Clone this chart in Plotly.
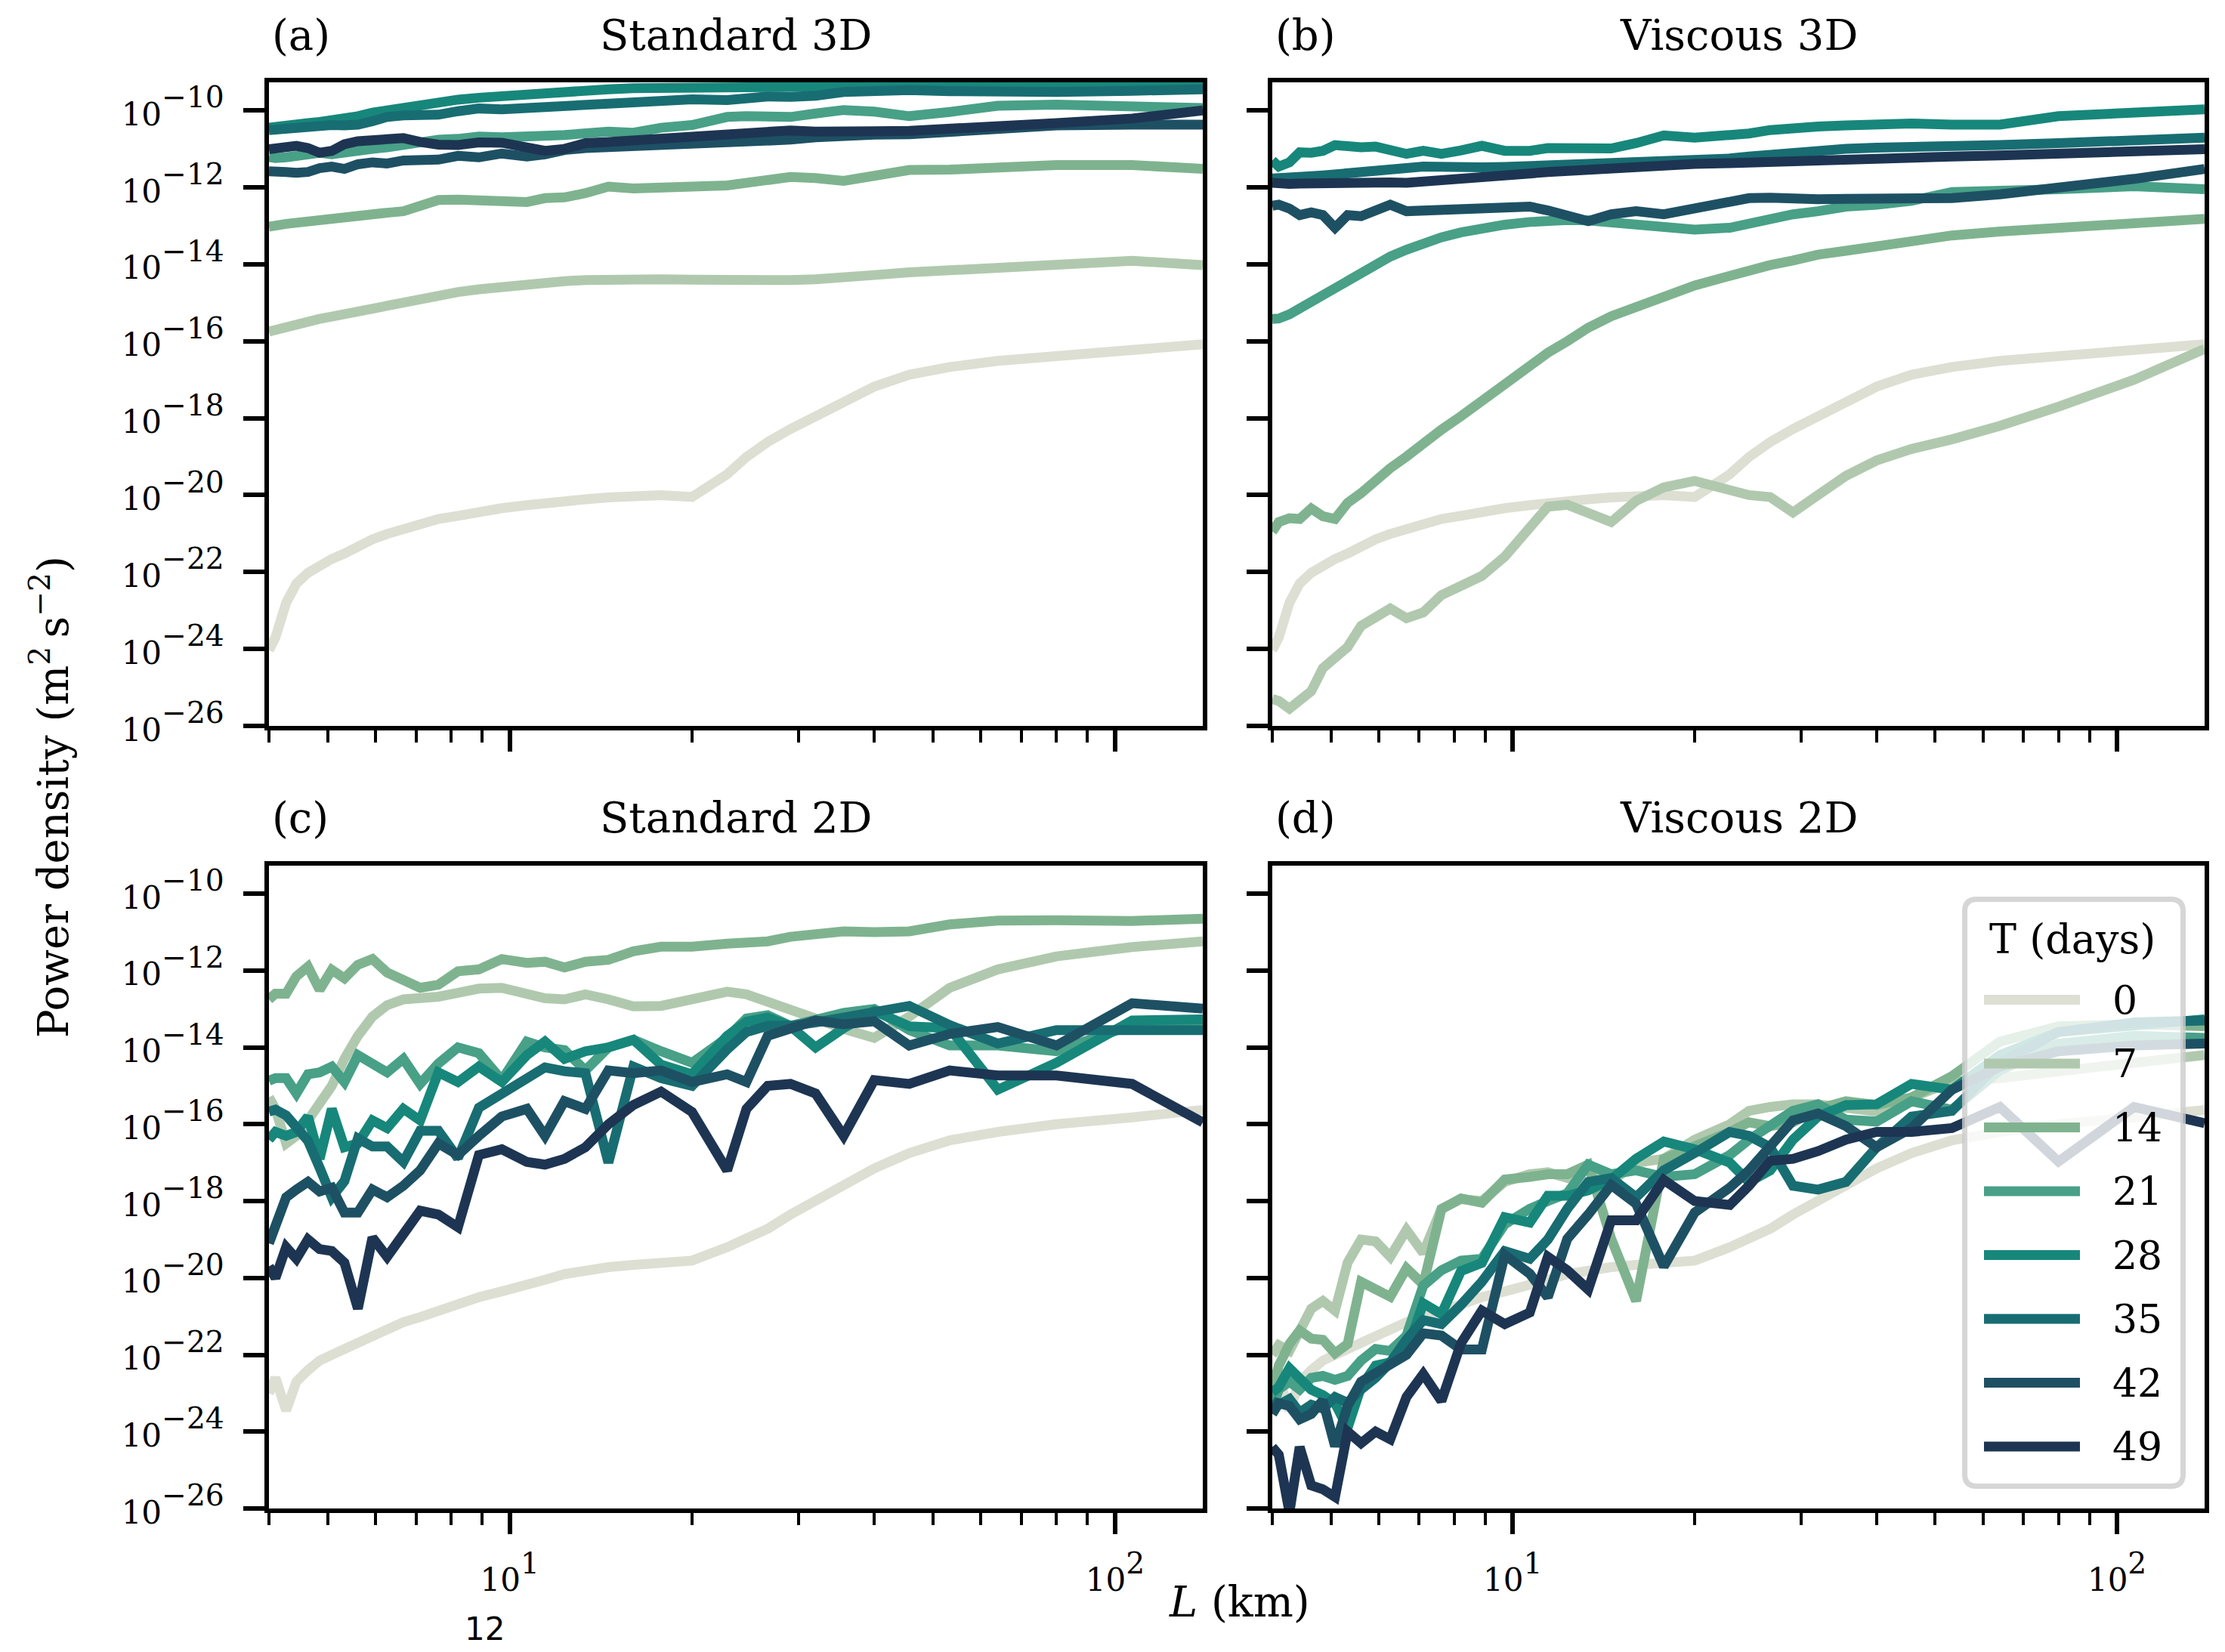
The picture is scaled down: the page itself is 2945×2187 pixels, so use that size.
import numpy as np
import plotly.graph_objects as go

# ---------------- data (log10 of power density, m^2 s^-2) ----------------
L_km = [4.0, 4.1, 4.27, 4.44, 4.64, 4.85, 5.08, 5.33, 5.61, 5.93, 6.27, 6.67, 7.11, 7.62,
        8.21, 8.89, 9.7, 10.67, 11.43, 12.31, 13.33, 14.55, 16.0, 17.78, 20.0, 22.86, 24.6,
        26.67, 29.09, 32.0, 35.6, 40.0, 45.7, 53.3, 64.0, 80.0, 106.7, 139.6]

days = [0, 7, 14, 21, 28, 35, 42, 49]
colors = ['#dcdfd2', '#b0c9ae', '#7fb38f', '#48a087', '#17877b', '#186d72', '#1e5064', '#1d3552']

# (a) Standard 3D
a0 = [-24.03, -23.7, -22.8, -22.3, -22.02, -21.83, -21.66, -21.52, -21.32, -21.15, -21.01, -20.87, -20.74, -20.62,
      -20.54, -20.42, -20.34, -20.26, -20.20, -20.14, -20.11, -20.06, -20.01, -20.0, -20.05, -19.46, -19.01,
      -18.62, -18.28, -17.94, -17.55, -17.18, -16.87, -16.67, -16.51, -16.37, -16.23, -16.08]
a7 = [-15.75, -15.70, -15.62, -15.55, -15.48, -15.42, -15.36, -15.29, -15.23, -15.17, -15.10, -15.00, -14.90, -14.82,
      -14.72, -14.65, -14.58, -14.52, -14.48, -14.44, -14.41, -14.39, -14.39, -14.39, -14.40, -14.42, -14.42,
      -14.42, -14.41, -14.39, -14.36, -14.28, -14.21, -14.16, -14.12, -14.02, -13.91, -14.02]
a14 = [-13.02, -12.98, -12.95, -12.92, -12.88, -12.86, -12.80, -12.78, -12.74, -12.70, -12.66, -12.62, -12.45, -12.33,
       -12.32, -12.32, -12.36, -12.38, -12.28, -12.26, -12.15, -11.98, -12.03, -12.03, -11.98, -11.95, -11.90,
       -11.80, -11.73, -11.76, -11.83, -11.70, -11.55, -11.54, -11.48, -11.42, -11.42, -11.52]
a21 = [-11.21, -11.24, -11.22, -11.18, -11.13, -11.10, -11.14, -11.08, -11.05, -11.00, -10.96, -10.88, -10.80, -10.76,
       -10.74, -10.68, -10.70, -10.71, -10.66, -10.64, -10.59, -10.55, -10.58, -10.45, -10.38, -10.17, -10.15,
       -10.16, -10.17, -10.08, -9.99, -10.03, -10.15, -10.04, -9.88, -9.85, -9.88, -9.94]
a28 = [-10.45, -10.42, -10.38, -10.36, -10.33, -10.30, -10.27, -10.23, -10.15, -10.06, -10.00, -9.93, -9.86, -9.77,
       -9.72, -9.67, -9.62, -9.58, -9.55, -9.51, -9.48, -9.45, -9.42, -9.41, -9.40, -9.39, -9.38,
       -9.37, -9.37, -9.36, -9.36, -9.36, -9.36, -9.35, -9.35, -9.35, -9.35, -9.35]
a35 = [-10.51, -10.49, -10.46, -10.44, -10.41, -10.39, -10.38, -10.39, -10.37, -10.28, -10.17, -10.13, -10.12, -10.11,
       -10.02, -9.95, -9.97, -9.94, -9.90, -9.84, -9.82, -9.81, -9.81, -9.74, -9.71, -9.73, -9.68,
       -9.64, -9.65, -9.62, -9.52, -9.47, -9.47, -9.50, -9.52, -9.52, -9.49, -9.45]
a42 = [-11.58, -11.57, -11.60, -11.62, -11.60, -11.50, -11.46, -11.52, -11.40, -11.35, -11.38, -11.30, -11.30, -11.28,
       -11.18, -11.22, -11.12, -11.20, -11.14, -11.03, -10.98, -10.96, -10.93, -10.88, -10.83, -10.80, -10.78,
       -10.77, -10.76, -10.70, -10.65, -10.63, -10.62, -10.55, -10.45, -10.39, -10.37, -10.37]
a49 = [-11.01, -10.98, -10.93, -10.92, -10.98, -11.10, -11.05, -10.88, -10.80, -10.78, -10.76, -10.72, -10.82, -10.89,
       -10.90, -10.83, -10.84, -10.95, -11.05, -11.00, -10.85, -10.82, -10.78, -10.72, -10.64, -10.60, -10.56,
       -10.53, -10.52, -10.55, -10.57, -10.54, -10.53, -10.46, -10.40, -10.33, -10.21, -10.00]

# (b) Viscous 3D
b0 = a0
b7 = [-25.3, -25.35, -25.55, -25.35, -25.1, -24.5, -24.2, -23.95, -23.4, -23.15, -22.95, -23.2, -23.05, -22.6,
      -22.35, -22.1, -21.6, -20.8, -20.3, -20.25, -20.45, -20.7, -20.15, -19.8, -19.63, -19.85, -20.0,
      -20.05, -20.45, -20.0, -19.5, -19.1, -18.8, -18.55, -18.2, -17.7, -17.0, -16.2]
b14 = [-20.95, -20.7, -20.6, -20.62, -20.35, -20.55, -20.62, -20.2, -19.95, -19.6, -19.3, -19.0, -18.65, -18.3,
       -17.95, -17.55, -17.1, -16.65, -16.3, -16.0, -15.65, -15.35, -15.1, -14.85, -14.55, -14.3, -14.15,
       -14.02, -13.9, -13.75, -13.65, -13.52, -13.4, -13.25, -13.15, -13.05, -12.95, -12.82]
b21 = [-15.42, -15.41, -15.3, -15.15, -14.98, -14.8, -14.6, -14.4, -14.2, -14.0, -13.8, -13.62, -13.45, -13.3,
       -13.17, -13.06, -12.97, -12.9, -12.86, -12.85, -12.86, -12.9, -12.95, -13.02, -13.1, -13.05, -12.95,
       -12.8, -12.7, -12.62, -12.5, -12.45, -12.35, -12.12, -12.1, -12.05, -11.97, -12.05]
b28 = [-11.30, -11.46, -11.35, -11.09, -11.10, -11.05, -10.90, -10.96, -10.96, -10.94, -11.01, -11.13, -11.05, -11.13,
       -11.04, -10.92, -11.05, -11.05, -10.98, -10.98, -11.01, -10.99, -10.85, -10.65, -10.71, -10.68, -10.60,
       -10.51, -10.45, -10.42, -10.39, -10.36, -10.34, -10.37, -10.37, -10.15, -10.08, -9.97]
b35 = [-11.77, -11.77, -11.75, -11.73, -11.71, -11.69, -11.67, -11.64, -11.6, -11.58, -11.55, -11.5, -11.46, -11.48,
       -11.5, -11.48, -11.47, -11.45, -11.43, -11.41, -11.38, -11.35, -11.31, -11.31, -11.32, -11.25, -11.2,
       -11.15, -11.1, -11.04, -11.0, -10.97, -10.96, -10.93, -10.9, -10.85, -10.78, -10.71]
b42 = [-12.48, -12.45, -12.55, -12.72, -12.65, -12.72, -13.05, -12.72, -12.75, -12.62, -12.45, -12.62, -12.6, -12.56,
       -12.6, -12.52, -12.5, -12.5, -12.6, -12.75, -12.88, -12.7, -12.62, -12.7, -12.55, -12.38, -12.28,
       -12.27, -12.3, -12.31, -12.3, -12.3, -12.29, -12.28, -12.18, -12.02, -11.78, -11.52]
b49 = [-11.88, -11.9, -11.91, -11.9, -11.89, -11.88, -11.87, -11.87, -11.86, -11.86, -11.87, -11.88, -11.84, -11.79,
       -11.76, -11.72, -11.68, -11.64, -11.6, -11.57, -11.52, -11.47, -11.42, -11.4, -11.39, -11.37, -11.35,
       -11.33, -11.31, -11.29, -11.27, -11.25, -11.23, -11.2, -11.17, -11.12, -11.06, -11.01]

# (c) Standard 2D
c0 = [-23.0, -22.6, -23.45, -22.7, -22.4, -22.15, -22.0, -21.85, -21.65, -21.47, -21.3, -21.15, -21.02, -20.85,
      -20.65, -20.5, -20.35, -20.2, -20.05, -19.9, -19.8, -19.72, -19.66, -19.62, -19.55, -19.2, -18.95,
      -18.72, -18.35, -18.0, -17.55, -17.15, -16.75, -16.42, -16.2, -16.0, -15.82, -15.63]
c7 = [-15.3, -15.6, -16.5, -16.3, -15.9, -15.5, -15.0, -14.3, -13.7, -13.2, -12.9, -12.75, -12.72, -12.68,
      -12.58, -12.47, -12.45, -12.6, -12.72, -12.75, -12.62, -12.75, -12.93, -12.92, -12.72, -12.55, -12.62,
      -12.8, -13.0, -13.25, -13.52, -13.75, -13.2, -12.45, -11.97, -11.63, -11.39, -11.24]
c14 = [-12.75, -12.6, -12.6, -12.15, -11.9, -12.5, -11.98, -12.2, -11.85, -11.7, -12.05, -12.25, -12.45, -12.37,
       -12.02, -11.97, -11.7, -11.8, -11.77, -11.92, -11.77, -11.72, -11.5, -11.38, -11.38, -11.3, -11.27,
       -11.24, -11.12, -11.03, -10.98, -11.0, -10.98, -10.8, -10.7, -10.69, -10.71, -10.65]
c21 = [-14.87, -14.8, -14.8, -15.2, -14.7, -14.65, -14.5, -14.9, -14.2, -14.45, -14.65, -14.3, -14.95, -14.42,
       -14.0, -14.15, -14.85, -13.85, -14.0, -14.07, -14.6, -14.0, -13.8, -14.1, -14.4, -13.75, -13.25,
       -13.16, -13.44, -13.28, -13.1, -13.0, -13.55, -13.95, -13.95, -14.1, -13.42, -13.38]
c28 = [-16.4, -16.2, -16.3, -16.2, -15.8, -16.9, -15.6, -16.6, -16.5, -15.9, -16.1, -15.6, -15.9, -14.65,
       -14.9, -14.5, -14.9, -14.2, -13.85, -14.3, -14.1, -14.0, -13.8, -14.45, -14.7, -13.7, -13.33,
       -13.22, -13.45, -14.0, -13.5, -13.05, -13.45, -13.5, -15.1, -14.4, -13.3, -13.27]
c35 = [-15.67, -15.62, -15.77, -16.07, -16.43, -17.13, -17.9, -17.48, -16.37, -16.58, -16.58, -16.98, -16.17, -16.17,
       -16.88, -15.57, -15.22, -14.87, -14.52, -14.62, -14.67, -17.0, -14.5, -14.8, -15.0, -14.05, -13.6,
       -13.44, -13.44, -13.35, -13.22, -13.05, -12.92, -13.42, -13.9, -13.55, -13.55, -13.55]
c42 = [-19.1, -18.6, -17.9, -17.7, -17.5, -17.75, -17.65, -18.3, -18.3, -17.7, -17.9, -17.6, -17.2, -16.5,
       -16.8, -16.3, -15.8, -15.6, -16.3, -15.4, -15.6, -14.6, -14.67, -14.6, -14.9, -14.7, -14.9,
       -13.7, -13.5, -13.3, -13.4, -13.32, -13.95, -13.65, -13.47, -13.95, -12.85, -12.99]
c49 = [-19.7, -20.0, -19.2, -19.5, -19.0, -19.25, -19.3, -19.6, -20.8, -18.95, -19.45, -18.9, -18.25, -18.35,
       -18.68, -16.8, -16.65, -16.98, -17.05, -16.9, -16.6, -16.0, -15.5, -15.15, -15.68, -17.2, -15.6,
       -15.0, -14.95, -15.2, -16.3, -14.85, -14.95, -14.6, -14.73, -14.73, -14.95, -15.95]

# (d) Viscous 2D
d0 = c0
d7 = [-22.0, -21.75, -21.9, -21.35, -20.8, -20.6, -20.85, -19.6, -19.0, -19.05, -19.45, -18.75, -19.35, -18.2,
      -17.95, -18.0, -17.5, -17.3, -17.25, -17.4, -17.1, -17.5, -17.0, -16.9, -16.4, -16.0, -15.65,
      -15.55, -15.48, -15.48, -15.55, -15.67, -15.3, -14.9, -14.8, -14.6, -14.4, -14.2]
d14 = [-22.9, -22.28, -21.72, -21.37, -21.58, -21.61, -21.96, -21.72, -20.1, -20.28, -20.49, -19.75, -20.17, -18.21,
       -17.93, -18.04, -17.44, -17.37, -17.3, -17.3, -17.05, -18.98, -20.6, -16.9, -16.6, -16.2, -15.95,
       -16.05, -15.95, -15.6, -15.4, -15.5, -15.3, -14.75, -13.85, -13.45, -13.4, -13.45]
d21 = [-23.4, -22.9, -22.7, -22.9, -22.6, -22.55, -22.65, -22.55, -22.15, -21.85, -21.9, -21.5, -20.2, -19.8,
       -19.55, -19.5, -18.6, -18.2, -18.0, -17.8, -17.05, -17.3, -17.2, -17.37, -17.3, -16.8, -16.4,
       -16.05, -15.65, -15.48, -15.88, -15.93, -15.4, -15.62, -14.6, -13.9, -13.7, -13.75]
d28 = [-22.98, -22.84, -22.35, -22.63, -22.91, -23.05, -23.26, -23.9, -22.84, -22.28, -22.2, -21.93, -20.66, -20.94,
       -19.82, -19.61, -18.42, -18.56, -17.86, -17.86, -17.72, -17.44, -16.9, -16.45, -16.65, -17.0, -17.5,
       -17.2, -16.4, -15.8, -15.5, -15.48, -14.95, -15.1, -14.2, -13.6, -13.4, -13.27]
d35 = [-23.2, -23.3, -23.15, -23.5, -23.3, -23.4, -23.1, -23.25, -22.9, -22.6, -22.2, -21.6, -21.1, -21.2,
       -20.7, -20.1, -19.3, -19.5, -19.0, -18.2, -17.5, -17.4, -17.9, -17.2, -16.75, -16.2, -16.3,
       -16.6, -17.6, -17.7, -17.5, -16.6, -15.8, -15.65, -14.4, -13.6, -13.35, -13.3]
d42 = [-23.54, -23.26, -23.33, -23.68, -23.54, -23.19, -24.38, -23.33, -22.7, -22.49, -22.28, -22.0, -21.44, -21.5,
       -21.86, -21.86, -19.4, -19.89, -20.5, -18.98, -18.35, -17.58, -18.07, -19.7, -18.3, -17.65, -17.2,
       -16.6, -15.9, -15.72, -16.05, -16.6, -16.1, -15.1, -14.5, -14.1, -13.95, -13.9]
d49 = [-24.4, -24.6, -26.1, -24.4, -25.4, -25.5, -25.7, -24.0, -24.3, -24.0, -24.2, -23.1, -22.5, -23.2,
       -21.7, -20.85, -21.2, -20.9, -19.45, -19.8, -20.3, -18.5, -18.5, -17.45, -18.0, -18.1, -17.6,
       -16.95, -16.9, -16.7, -16.4, -16.2, -16.2, -16.1, -15.55, -16.97, -15.55, -15.97]

panel_titles = ['Standard 3D', 'Viscous 3D', 'Standard 2D', 'Viscous 2D']
panel_tags = ['(a)', '(b)', '(c)', '(d)']
panel_series = [[a0, a7, a14, a21, a28, a35, a42, a49],
                [b0, b7, b14, b21, b28, b35, b42, b49],
                [c0, c7, c14, c21, c28, c35, c42, c49],
                [d0, d7, d14, d21, d28, d35, d42, d49]]

y_tick_exps = [-10, -12, -14, -16, -18, -20, -22, -24, -26]
x_tick_exps = [1, 2]
x_minor = [4, 5, 6, 7, 8, 9, 20, 30, 40, 50, 60, 70, 80, 90]

# ---------------- layout geometry (pixels) ----------------
W, H = 2945, 2187
cols = [(356, 1592), (1684, 2918)]
rows = [(109, 961), (1146, 1997)]

def px(x):
    return x / W

def py(y):
    return 1 - y / H

SERIF = 'DejaVu Serif'
LINE_W = 13
BASE_PX = 42      # size of the "10" in tick labels
TICK_FONT = 56    # parent size -> superscript = 70 % of it


def pow_label(e):
    s = str(e).replace('-', '\u2212')
    return f'<span style="font-size:{BASE_PX}px">10</span><sup>{s}</sup>'


fig = go.Figure()

layout = dict(template='none', width=W, height=H, margin=dict(l=0, r=0, t=0, b=0, pad=0), autosize=False,
              paper_bgcolor='white', plot_bgcolor='white', showlegend=False)

annotations = []
shapes = []

for i in range(4):
    r, c = divmod(i, 2)
    xa = 'xaxis' if i == 0 else f'xaxis{i+1}'
    ya = 'yaxis' if i == 0 else f'yaxis{i+1}'
    xref = 'x' if i == 0 else f'x{i+1}'
    yref = 'y' if i == 0 else f'y{i+1}'
    (x0, x1), (y0, y1) = cols[c], rows[r]
    layout[xa] = dict(
        type='log', domain=[px(x0), px(x1)], anchor=yref, automargin=False,
        range=[np.log10(L_km[0]), np.log10(L_km[-1])],
        showline=True, mirror=True, linecolor='black', linewidth=6,
        showgrid=False, zeroline=False,
        ticks='outside', ticklen=28, tickwidth=6, tickcolor='black',
        tickmode='array', tickvals=[10 ** e for e in x_tick_exps],
        ticktext=[pow_label(e) for e in x_tick_exps],
        showticklabels=(r == 1), ticklabelstandoff=8,
        tickfont=dict(family=SERIF, size=TICK_FONT, color='black'),
        minor=dict(tickmode='array', tickvals=x_minor, ticklen=16, tickwidth=4,
                   tickcolor='black', ticks='outside', showgrid=False),
    )
    layout[ya] = dict(
        type='log', domain=[py(y1), py(y0)], anchor=xref, automargin=False,
        range=[-26, -9.27],
        showline=True, mirror=True, linecolor='black', linewidth=6,
        showgrid=False, zeroline=False,
        ticks='outside', ticklen=28, tickwidth=6, tickcolor='black',
        tickmode='array', tickvals=[10.0 ** e for e in y_tick_exps],
        ticktext=[pow_label(e) for e in y_tick_exps],
        showticklabels=(c == 0), ticklabelstandoff=14,
        tickfont=dict(family=SERIF, size=TICK_FONT, color='black'),
    )
    for d, col, vals in zip(days, colors, panel_series[i]):
        fig.add_trace(go.Scatter(x=L_km, y=np.power(10.0, np.array(vals)), mode='lines',
                                 line=dict(color=col, width=LINE_W), xaxis=xref, yaxis=yref,
                                 name=str(d), showlegend=False, hoverinfo='skip'))
    # titles
    ty = y0 - 63
    annotations.append(dict(text=panel_tags[i], x=px(x0 + 2), y=py(ty), xref='paper', yref='paper',
                            xanchor='left', yanchor='middle', showarrow=False,
                            font=dict(family=SERIF, size=56, color='black')))
    annotations.append(dict(text=panel_titles[i], x=px((x0 + x1) / 2), y=py(ty), xref='paper', yref='paper',
                            xanchor='center', yanchor='middle', showarrow=False,
                            font=dict(family=SERIF, size=56, color='black')))

# axis labels
annotations.append(dict(text='Power density (m<sup>2</sup>\u2009s<sup>\u22122</sup>)', x=px(66), y=py(1055),
                        xref='paper', yref='paper', xanchor='center', yanchor='middle', textangle=-90,
                        showarrow=False, font=dict(family=SERIF, size=56, color='black')))
annotations.append(dict(text='<i>L</i> (km)', x=px(1640), y=py(2120), xref='paper', yref='paper',
                        xanchor='center', yanchor='middle', showarrow=False,
                        font=dict(family=SERIF, size=56, color='black')))
annotations.append(dict(text='12', x=px(641), y=py(2156), xref='paper', yref='paper',
                        xanchor='center', yanchor='middle', showarrow=False,
                        font=dict(family='DejaVu Sans', size=42, color='black')))

# manual legend (rounded frame, semi-transparent)
lx0, lx1, ly0, ly1, rad = 2600.5, 2889.5, 1190.5, 1967.5, 16
def P(x, y):
    return f'{px(x):.6f},{py(y):.6f}'
path = (f'M {P(lx0 + rad, ly0)} L {P(lx1 - rad, ly0)} Q {P(lx1, ly0)} {P(lx1, ly0 + rad)} '
        f'L {P(lx1, ly1 - rad)} Q {P(lx1, ly1)} {P(lx1 - rad, ly1)} '
        f'L {P(lx0 + rad, ly1)} Q {P(lx0, ly1)} {P(lx0, ly1 - rad)} '
        f'L {P(lx0, ly0 + rad)} Q {P(lx0, ly0)} {P(lx0 + rad, ly0)} Z')
shapes.append(dict(type='path', path=path, xref='paper', yref='paper', layer='above',
                   fillcolor='rgba(255,255,255,0.8)', line=dict(color='rgba(204,204,204,0.8)', width=7)))
annotations.append(dict(text='T (days)', x=px(2743), y=py(1243), xref='paper', yref='paper',
                        xanchor='center', yanchor='middle', showarrow=False,
                        font=dict(family=SERIF, size=54, color='black')))
for k, (d, col) in enumerate(zip(days, colors)):
    yy = 1323.5 + k * 84.5
    shapes.append(dict(type='line', xref='paper', yref='paper', layer='above',
                       x0=px(2626), x1=px(2753), y0=py(yy), y1=py(yy),
                       line=dict(color=col, width=LINE_W)))
    annotations.append(dict(text=str(d), x=px(2794), y=py(yy), xref='paper', yref='paper',
                            xanchor='left', yanchor='middle', showarrow=False,
                            font=dict(family=SERIF, size=52, color='black')))

layout['annotations'] = annotations
layout['shapes'] = shapes
fig.update_layout(**layout)
fig.write_html('out.html')
